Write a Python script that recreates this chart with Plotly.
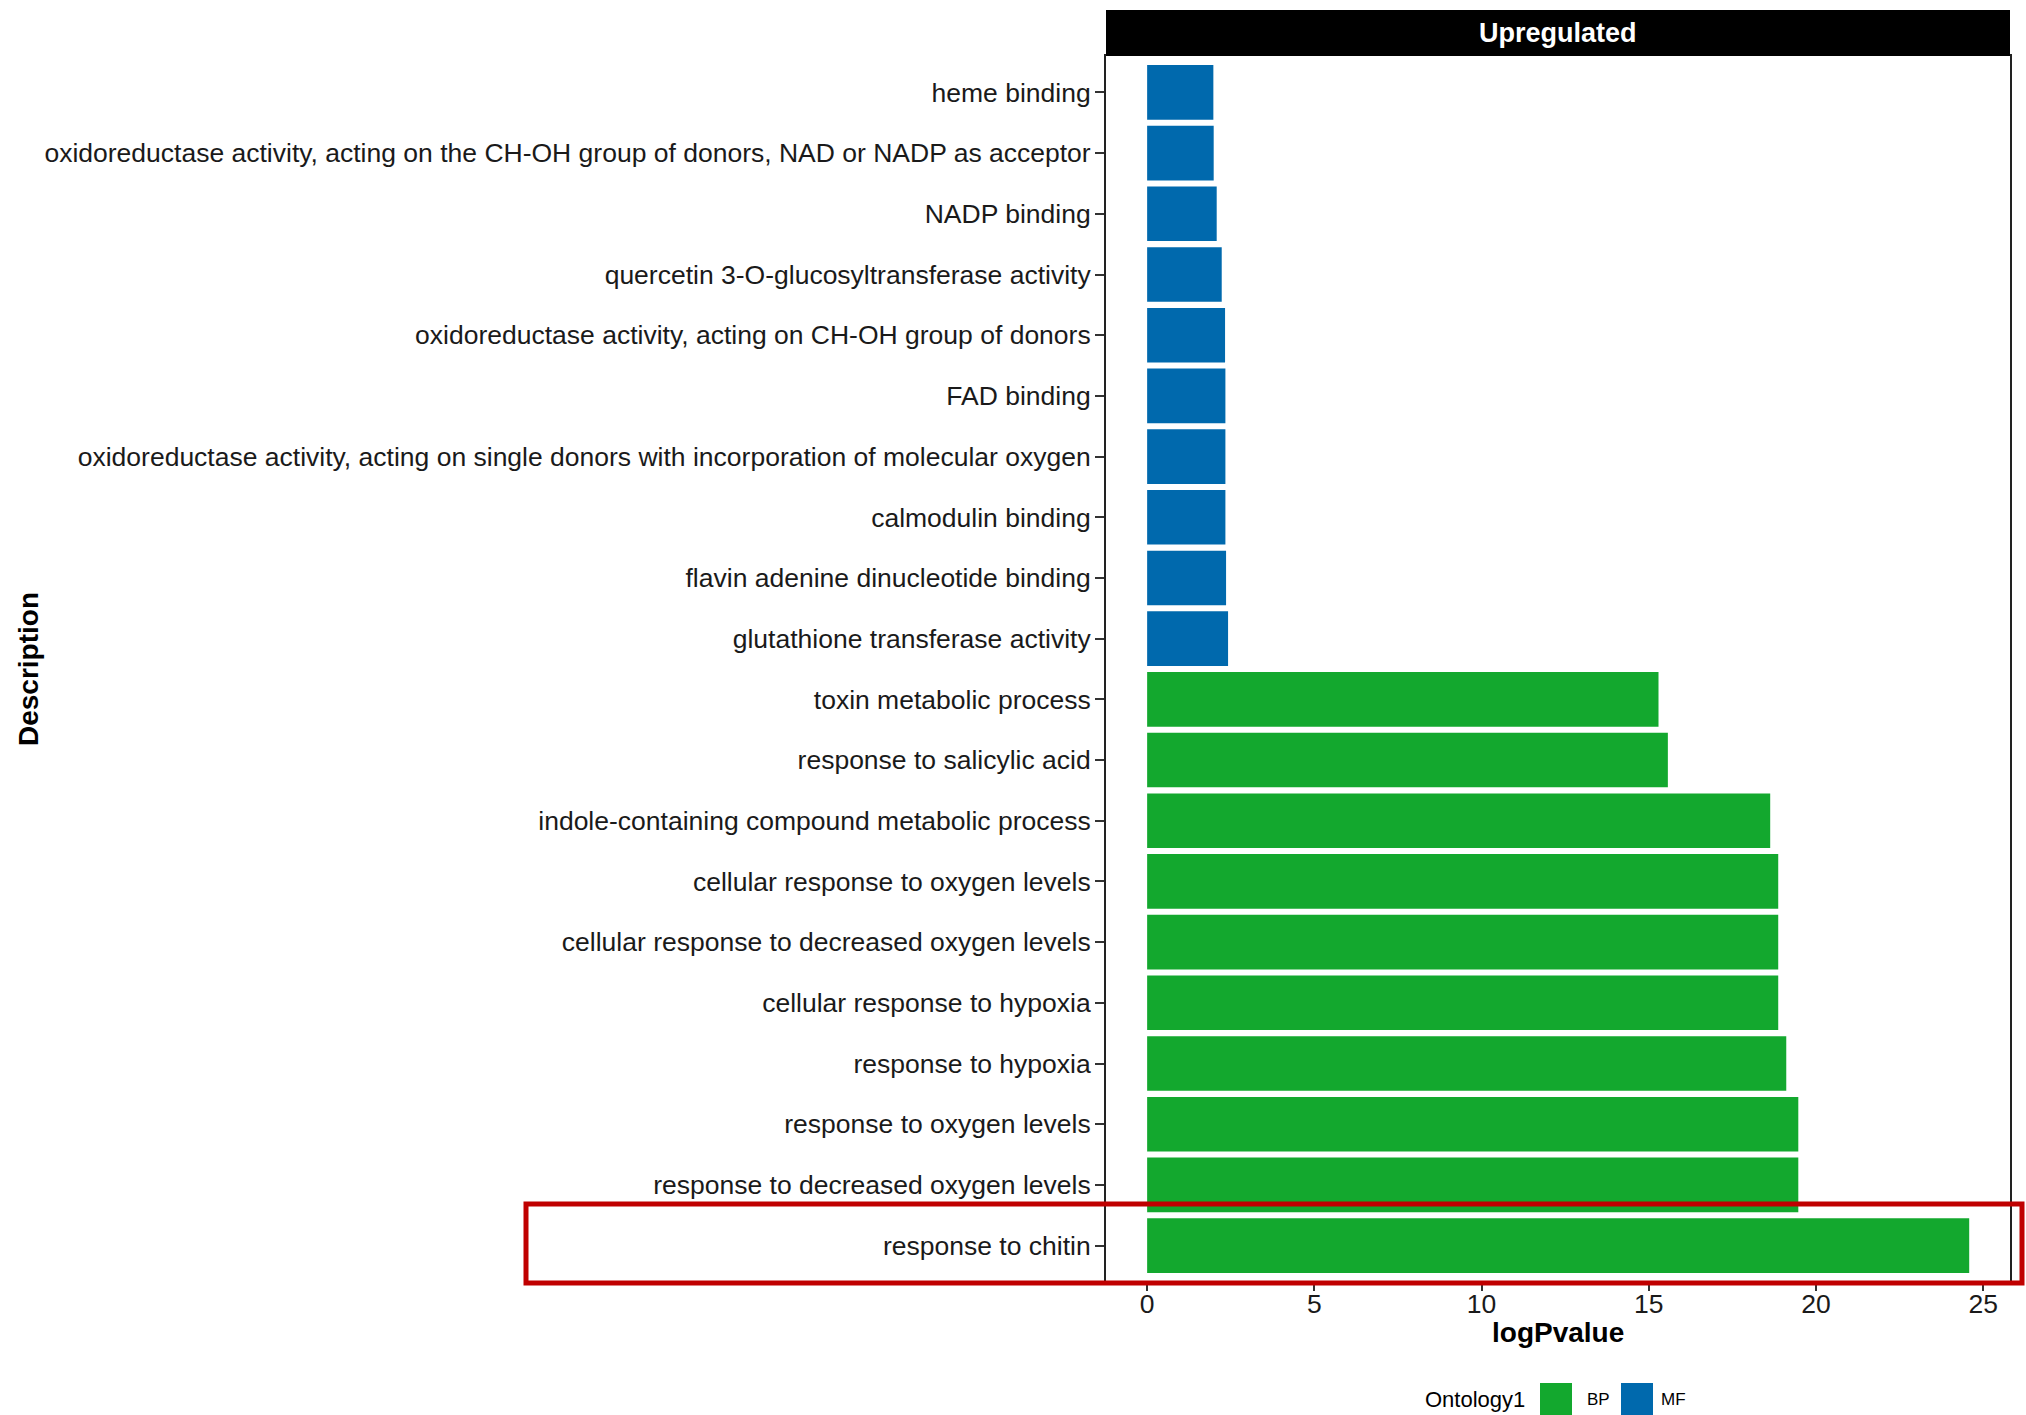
import plotly.graph_objects as go

# GO terms, top to bottom as drawn
terms = [
    "heme binding",
    "oxidoreductase activity, acting on the CH-OH group of donors, NAD or NADP as acceptor",
    "NADP binding",
    "quercetin 3-O-glucosyltransferase activity",
    "oxidoreductase activity, acting on CH-OH group of donors",
    "FAD binding",
    "oxidoreductase activity, acting on single donors with incorporation of molecular oxygen",
    "calmodulin binding",
    "flavin adenine dinucleotide binding",
    "glutathione transferase activity",
    "toxin metabolic process",
    "response to salicylic acid",
    "indole-containing compound metabolic process",
    "cellular response to oxygen levels",
    "cellular response to decreased oxygen levels",
    "cellular response to hypoxia",
    "response to hypoxia",
    "response to oxygen levels",
    "response to decreased oxygen levels",
    "response to chitin",
]
log_p = [1.98, 1.99, 2.08, 2.23, 2.33, 2.34, 2.34, 2.34, 2.36, 2.42,
         15.29, 15.57, 18.63, 18.87, 18.87, 18.87, 19.11, 19.47, 19.47, 24.58]
ontology = ["MF"] * 10 + ["BP"] * 10

colors = {"BP": "#13A82E", "MF": "#0069AD"}
font = "Liberation Sans, Arial, sans-serif"

fig = go.Figure()
for ont in ["BP", "MF"]:
    ys = [t for t, o in zip(terms, ontology) if o == ont]
    xs = [v for v, o in zip(log_p, ontology) if o == ont]
    fig.add_trace(go.Bar(
        x=xs, y=ys, orientation="h", name=ont,
        marker=dict(color=colors[ont], line=dict(width=0)),
        showlegend=False,
    ))

# pixel helpers for paper coords (plot area 1106..2010 x, 56..1282 y)
L, R, T, B = 1106, 2010, 56, 1282
def px(x):
    return (x - L) / (R - L)
def py(y):
    return (B - y) / (B - T)

shapes = [
    # facet strip
    dict(type="rect", xref="paper", yref="paper", x0=0, x1=1, y0=1, y1=py(10),
         fillcolor="black", line=dict(width=0)),
    # highlight box
    dict(type="rect", xref="paper", yref="paper", x0=px(526), x1=px(2022),
         y0=py(1283), y1=py(1204), line=dict(color="#C00000", width=5),
         fillcolor="rgba(0,0,0,0)"),
    # legend keys
    dict(type="rect", xref="paper", yref="paper", x0=px(1540), x1=px(1572),
         y0=py(1415), y1=py(1383), fillcolor=colors["BP"], line=dict(width=0)),
    dict(type="rect", xref="paper", yref="paper", x0=px(1621), x1=px(1653),
         y0=py(1415), y1=py(1383), fillcolor=colors["MF"], line=dict(width=0)),
]

def note(text, x, y, size, color="black", xanchor="center", angle=0):
    return dict(text=text, xref="paper", yref="paper", x=x, y=y,
                xanchor=xanchor, yanchor="middle", textangle=angle,
                showarrow=False, font=dict(family=font, size=size, color=color))

annotations = [
    note("<b>Upregulated</b>", 0.5, py(33), 27, color="white"),
    note("<b>logPvalue</b>", 0.5, py(1332), 28),
    note("<b>Description</b>", px(28), 0.5, 28, angle=-90),
    note("Ontology1", px(1527), py(1399), 22, xanchor="right"),
    note("BP", px(1585), py(1399), 17, xanchor="left"),
    note("MF", px(1659), py(1399), 17, xanchor="left"),
]

fig.update_layout(
    width=2026, height=1415,
    margin=dict(l=L, r=2026 - R, t=T, b=1415 - B, pad=0),
    plot_bgcolor="white", paper_bgcolor="white",
    barmode="overlay", bargap=0.1,
    font=dict(family=font, color="black"),
    shapes=shapes, annotations=annotations,
    xaxis=dict(range=[-1.23, 25.8], tickvals=[0, 5, 10, 15, 20, 25],
               showgrid=False, zeroline=False, showline=True, mirror=True,
               linecolor="#222", linewidth=2, ticks="outside", ticklen=7,
               tickcolor="#333", tickwidth=2, ticklabelstandoff=-10,
               tickfont=dict(size=26.5, color="#1a1a1a")),
    yaxis=dict(type="category", categoryorder="array", categoryarray=terms,
               range=[19.6, -0.6], showgrid=False, zeroline=False,
               showline=True, mirror=True, linecolor="#222", linewidth=2,
               ticks="outside", ticklen=9, tickcolor="#333", tickwidth=2,
               ticklabelstandoff=-1, tickfont=dict(size=26.5, color="#1a1a1a")),
)

fig.write_html("out.html", config={"displayModeBar": False},
               post_script="document.body.style.margin='0px';")
